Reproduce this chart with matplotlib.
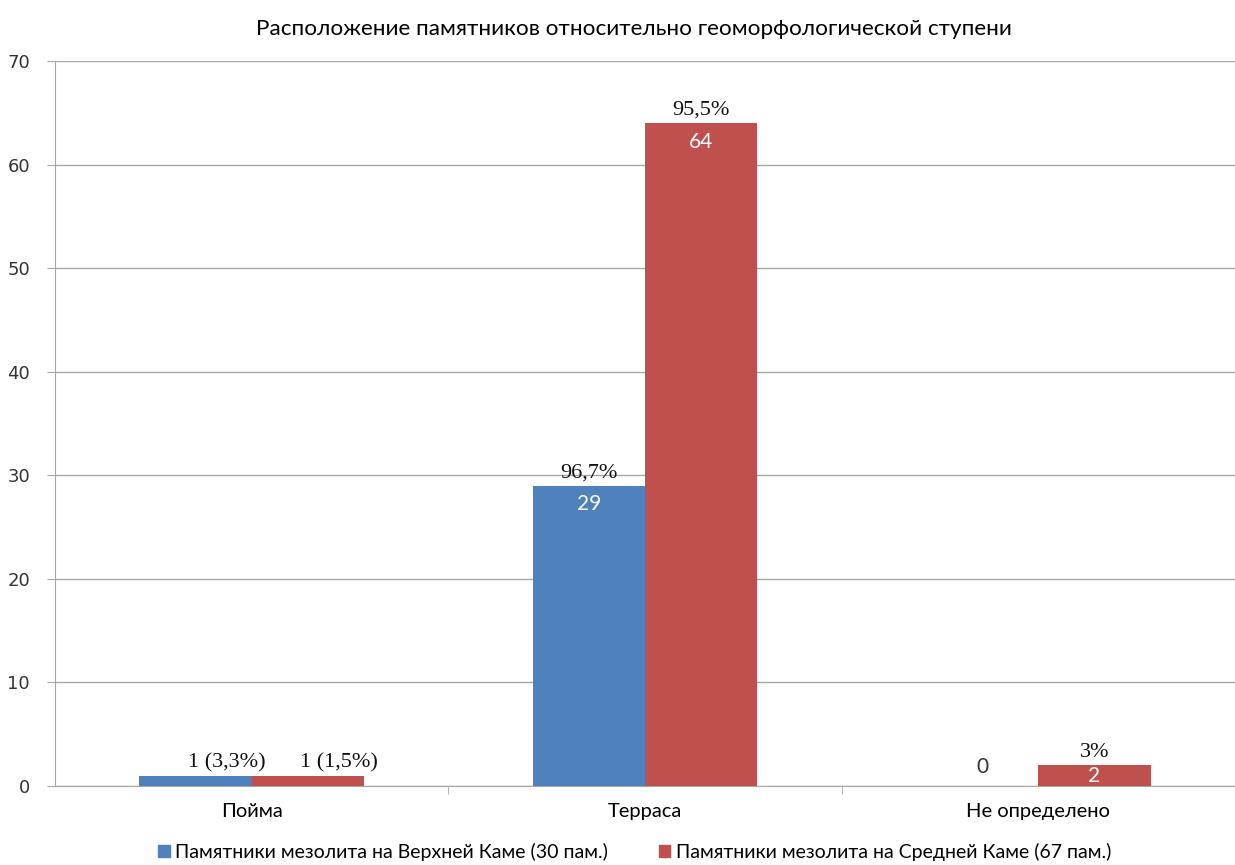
import numpy as np
import matplotlib
matplotlib.use("Agg")
from matplotlib import pyplot as plt

categories = ["Пойма", "Терраса", "Не определено"]
upper_kama = [1, 29, 0]
middle_kama = [1, 64, 2]
upper_pct = ["1 (3,3%)", "96,7%", ""]
middle_pct = ["1 (1,5%)", "95,5%", "3%"]
series_names = ["Памятники мезолита на Верхней Каме (30 пам.)",
                "Памятники мезолита на Средней Каме (67 пам.)"]
y_ticks = [0, 10, 20, 30, 40, 50, 60, 70]

# horizontal nudge of the percent labels (in category units), as placed in the original
label_shift = [0.08, 0.0, 0.0]

blue = "#4f81bd"
red = "#c0504d"
narrow = ["Lato", "DejaVu Sans"]
serif = ["Liberation Serif", "DejaVu Serif"]

fig = plt.figure(figsize=(12.35, 8.65), dpi=100)
ax = fig.add_axes([0.0445, 0.0913, 0.9555, 0.8382])

x = np.arange(len(categories))
w = 0.2857
b1 = ax.bar(x - w / 2, upper_kama, w, color=blue, zorder=3)
b2 = ax.bar(x + w / 2, middle_kama, w, color=red, zorder=3)

ax.set_xlim(-0.5, 2.5)
ax.set_ylim(0, 70)
ax.set_yticks(y_ticks)
ax.set_yticklabels([str(t) for t in y_ticks], fontsize=13, color="#333333",
                   family=["DejaVu Sans"])
ax.yaxis.grid(True, color="#a6a6a6", linewidth=1.0, zorder=0)
ax.tick_params(axis="y", length=6, color="#a6a6a6", pad=12)

ax.set_xticks(x)
ax.set_xticklabels(categories, fontsize=14.5, family=narrow)
ax.set_xticks([0.5, 1.5], minor=True)
ax.tick_params(axis="x", which="major", length=0, pad=12)
ax.tick_params(axis="x", which="minor", length=6, color="#a6a6a6")

for s in ["top", "right"]:
    ax.spines[s].set_visible(False)
for s in ["left", "bottom"]:
    ax.spines[s].set_color("#a6a6a6")

# percent labels above the bars
for bars, labels in [(b1, upper_pct), (b2, middle_pct)]:
    for i, (bar, lab) in enumerate(zip(bars, labels)):
        if not lab:
            continue
        ax.text(bar.get_x() + bar.get_width() / 2 + label_shift[i], bar.get_height() + 0.3,
                lab, ha="center", va="bottom", fontsize=16, family=serif, color="#111111")

# counts inside the bars
for bars, vals in [(b1, upper_kama), (b2, middle_kama)]:
    for bar, v in zip(bars, vals):
        cx = bar.get_x() + bar.get_width() / 2
        if v >= 5:
            ax.text(cx, v - 1.8, str(v), ha="center", va="center", fontsize=15,
                    family=narrow, color="white")
        elif v >= 2:
            ax.text(cx, v / 2, str(v), ha="center", va="center", fontsize=15,
                    family=narrow, color="white")
        elif v == 0:
            ax.text(cx, 1.8, "0", ha="center", va="center", fontsize=15,
                    family=narrow, color="#333333")

fig.text(0.513, 0.967, "Расположение памятников относительно геоморфологической ступени",
         ha="center", va="center", fontsize=16.2, family=narrow)

# legend
handles = [plt.Rectangle((0, 0), 1, 1, color=blue), plt.Rectangle((0, 0), 1, 1, color=red)]
fig.legend(handles, series_names, loc="center", bbox_to_anchor=(0.514, 0.015),
           ncol=2, frameon=False, prop={"family": narrow, "size": 14},
           handlelength=0.6, handleheight=0.6, handletextpad=0.3, columnspacing=2.6)

fig.savefig("out.png", dpi=100)
